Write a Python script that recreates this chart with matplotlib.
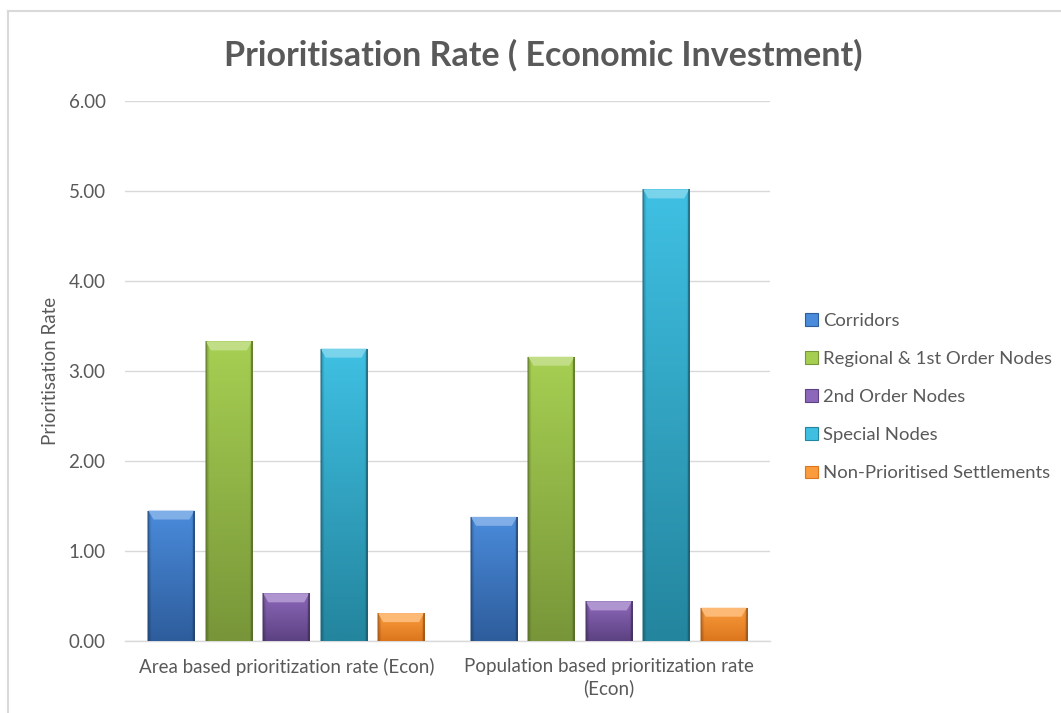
import numpy as np
import matplotlib
matplotlib.use("Agg")
import matplotlib.pyplot as plt
from matplotlib.patches import Polygon, Rectangle
from matplotlib.colors import to_rgb

# ---- data ----
categories = ["Area based prioritization rate (Econ)",
              "Population based prioritization rate\n(Econ)"]
series_names = ["Corridors", "Regional & 1st Order Nodes", "2nd Order Nodes",
                "Special Nodes", "Non-Prioritised Settlements"]
corridors = [1.45, 1.38]
regional_first = [3.33, 3.16]
second_order = [0.53, 0.44]
special_nodes = [3.25, 5.02]
non_prioritised = [0.31, 0.37]
yticks = [0, 1, 2, 3, 4, 5, 6]

series_values = [corridors, regional_first, second_order, special_nodes, non_prioritised]
top_colors = ["#4a8bdb", "#a6cf52", "#8d68ba", "#3fc0e3", "#fb9c3c"]
bottom_colors = ["#2e5d9c", "#789639", "#5c4282", "#24859e", "#dc761e"]

FONT = ["Lato", "DejaVu Sans"]
TXT = "#595959"

fig = plt.figure(figsize=(10.61, 7.13), dpi=100)
ax = fig.add_axes([0.1178, 0.101, 0.608, 0.757])

n = len(series_names)
step = 0.178
width = 0.143
x = np.arange(len(categories))

def shade(top, bottom, h=64, w=32):
    t = np.array(to_rgb(top))
    b = np.array(to_rgb(bottom))
    v = np.linspace(0, 1, h)[:, None, None]
    img = t * (1 - v) + b * v
    u = np.linspace(-1, 1, w)
    edge = 1 - 0.22 * np.clip((np.abs(u) - 0.88) / 0.12, 0, 1)
    img = img * edge[None, :, None]
    return np.clip(img, 0, 1)

bev_h = 0.10          # bevel height in data units
bev_in = 0.016        # bevel horizontal inset

for i, (name, vals) in enumerate(zip(series_names, series_values)):
    offs = (i - (n - 1) / 2) * step
    bars = ax.bar(x + offs, vals, width, color=bottom_colors[i], label=name,
                  edgecolor="none", zorder=3)
    for bar, v in zip(bars, vals):
        x0 = bar.get_x()
        x1 = x0 + bar.get_width()
        im = ax.imshow(shade(top_colors[i], bottom_colors[i]), aspect="auto",
                       extent=(x0, x1, 0, v), origin="upper", zorder=4,
                       interpolation="bilinear")
        im.set_clip_path(bar)
        # bevelled top face
        tc = np.array(to_rgb(top_colors[i]))
        light = np.clip(tc + (1 - tc) * 0.3, 0, 1)
        ax.add_patch(Polygon([(x0, v), (x1, v), (x1 - bev_in, v - bev_h),
                              (x0 + bev_in, v - bev_h)], closed=True,
                             facecolor=light, edgecolor="none", zorder=5))
        # thin dark outline along the bar sides
        ax.plot([x0, x0], [0, v], color=np.array(to_rgb(bottom_colors[i])) * 0.8,
                lw=1.2, alpha=0.6, zorder=6, solid_capstyle="butt")
        ax.plot([x1, x1], [0, v], color=np.array(to_rgb(bottom_colors[i])) * 0.7,
                lw=1.2, alpha=0.7, zorder=6, solid_capstyle="butt")

ax.set_xlim(-0.5, 1.5)
ax.set_ylim(0, 6)
ax.set_yticks(yticks)
ax.set_yticklabels([f"{t:.2f}" for t in yticks], fontsize=13.5, color=TXT,
                   family=FONT)
ax.set_xticks(x)
ax.set_xticklabels(categories, fontsize=13.5, color=TXT, family=FONT,
                   linespacing=1.3)
ax.tick_params(axis="both", length=0)
ax.tick_params(axis="x", pad=12)
ax.tick_params(axis="y", pad=14)
ax.grid(axis="y", color="#d9d9d9", linewidth=1, zorder=0)
for s in ["top", "right", "left"]:
    ax.spines[s].set_visible(False)
ax.spines["bottom"].set_color("#d9d9d9")
ax.spines["bottom"].set_linewidth(1)
ax.set_ylabel("Prioritisation Rate", fontsize=13.5, color=TXT, family=FONT,
              labelpad=7)

fig.text(0.512, 0.923, "Prioritisation Rate ( Economic Investment)",
         ha="center", va="center", fontsize=24.5, fontweight="bold",
         color=TXT, family=FONT)

# legend with small square keys
handles = [Rectangle((0, 0), 1, 1, facecolor=c, edgecolor=b, linewidth=0.8)
           for c, b in zip(top_colors, bottom_colors)]
leg = fig.legend(handles, series_names, loc="center left",
                 bbox_to_anchor=(0.743, 0.443), frameon=False,
                 handlelength=0.7, handleheight=0.7, handletextpad=0.3,
                 labelspacing=1.2, prop={"family": FONT, "size": 13.3})
for t in leg.get_texts():
    t.set_color(TXT)

# outer chart border (top and left edges)
fig.add_artist(plt.Line2D([8 / 1061, 1.0], [1 - 10.5 / 713] * 2,
                          transform=fig.transFigure, color="#d9d9d9", lw=1.5))
fig.add_artist(plt.Line2D([8 / 1061] * 2, [0, 1 - 10.5 / 713],
                          transform=fig.transFigure, color="#d9d9d9", lw=1.5))

fig.savefig("out.png", dpi=100, facecolor="white")
